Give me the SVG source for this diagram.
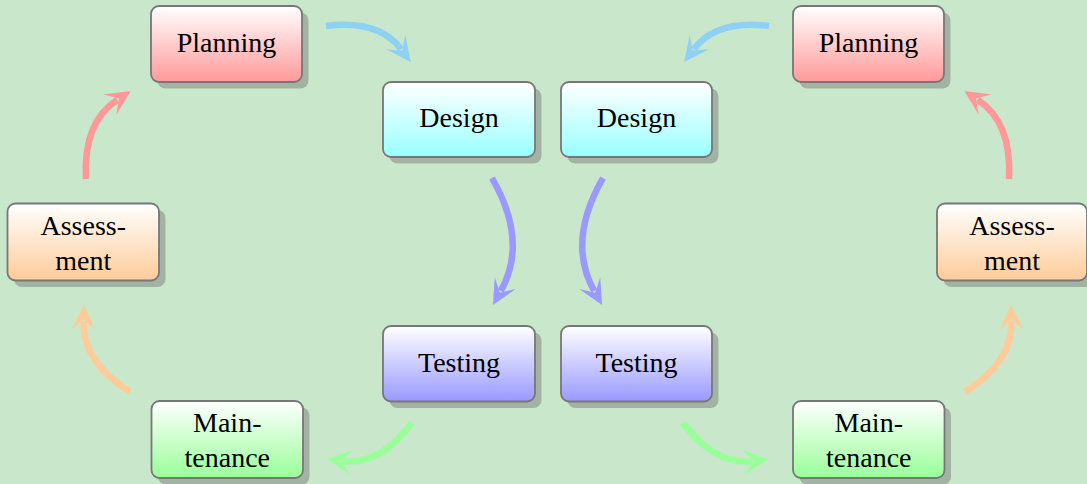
<svg xmlns="http://www.w3.org/2000/svg" width="1087" height="484" viewBox="0 0 1087 484">
<defs>
<linearGradient id="gRed" x1="0" y1="0" x2="0" y2="1"><stop offset="0" stop-color="#ffffff"/><stop offset="1" stop-color="#ff9999"/></linearGradient>
<linearGradient id="gCyan" x1="0" y1="0" x2="0" y2="1"><stop offset="0" stop-color="#ffffff"/><stop offset="1" stop-color="#99ffff"/></linearGradient>
<linearGradient id="gBlue" x1="0" y1="0" x2="0" y2="1"><stop offset="0" stop-color="#ffffff"/><stop offset="1" stop-color="#9999ff"/></linearGradient>
<linearGradient id="gOrange" x1="0" y1="0" x2="0" y2="1"><stop offset="0" stop-color="#ffffff"/><stop offset="1" stop-color="#ffcc99"/></linearGradient>
<linearGradient id="gGreen" x1="0" y1="0" x2="0" y2="1"><stop offset="0" stop-color="#ffffff"/><stop offset="1" stop-color="#99ff99"/></linearGradient>
<marker id="mSky" markerUnits="userSpaceOnUse" viewBox="-10 -13 28 26" markerWidth="28" markerHeight="26" refX="0" refY="0" orient="auto" overflow="visible"><path d="M16,0 L-9,-12 L2,0 L-9,12 Z" fill="#8fd0f5"/></marker>
<marker id="mBlue" markerUnits="userSpaceOnUse" viewBox="-10 -13 28 26" markerWidth="28" markerHeight="26" refX="0" refY="0" orient="auto" overflow="visible"><path d="M16,0 L-9,-12 L2,0 L-9,12 Z" fill="#9999ff"/></marker>
<marker id="mGreen" markerUnits="userSpaceOnUse" viewBox="-10 -13 28 26" markerWidth="28" markerHeight="26" refX="0" refY="0" orient="auto" overflow="visible"><path d="M16,0 L-9,-12 L2,0 L-9,12 Z" fill="#99ff99"/></marker>
<marker id="mOrange" markerUnits="userSpaceOnUse" viewBox="-10 -13 28 26" markerWidth="28" markerHeight="26" refX="0" refY="0" orient="auto" overflow="visible"><path d="M16,0 L-9,-12 L2,0 L-9,12 Z" fill="#ffcc99"/></marker>
<marker id="mRed" markerUnits="userSpaceOnUse" viewBox="-10 -13 28 26" markerWidth="28" markerHeight="26" refX="0" refY="0" orient="auto" overflow="visible"><path d="M16,0 L-9,-12 L2,0 L-9,12 Z" fill="#ff9999"/></marker>
</defs>
<style>
.shadow{fill:#a3b3a3;}
.box{stroke:#777777;stroke-width:1.8;}
.lbl{font-family:"Liberation Serif","Times New Roman",serif;font-size:28px;fill:#000;text-anchor:middle;}
.arr{fill:none;stroke-width:6.5;}
</style>
<rect x="0" y="0" width="1087" height="484" fill="#c9e7ca"/>

<g id="connectors">
<path class="arr" d="M326,26 Q378.7,19.5 401.1,49.2" stroke="#8fd0f5" marker-end="url(#mSky)"/>
<path class="arr" d="M769,26 Q716.3,19.5 693.9,49.2" stroke="#8fd0f5" marker-end="url(#mSky)"/>
<path class="arr" d="M492,178 Q528.5,241.5 500.8,291" stroke="#9999ff" marker-end="url(#mBlue)"/>
<path class="arr" d="M603,178 Q566.5,241.5 594.2,291" stroke="#9999ff" marker-end="url(#mBlue)"/>
<path class="arr" d="M412,422.7 Q379.9,465.6 342.6,461.2" stroke="#99ff99" marker-end="url(#mGreen)"/>
<path class="arr" d="M683,422.7 Q715.1,465.6 752.4,461.2" stroke="#99ff99" marker-end="url(#mGreen)"/>
<path class="arr" d="M130,392 Q82.1,361.5 83.6,321" stroke="#ffcc99" marker-end="url(#mOrange)"/>
<path class="arr" d="M965,392 Q1012.9,361.5 1011.4,321" stroke="#ffcc99" marker-end="url(#mOrange)"/>
<path class="arr" d="M86,179 Q82.9,122.1 117.3,99.7" stroke="#ff9999" marker-end="url(#mRed)"/>
<path class="arr" d="M1009,179 Q1012.1,122.1 977.7,99.7" stroke="#ff9999" marker-end="url(#mRed)"/>
</g>

<g id="planning-left">
<rect class="shadow" x="157.5" y="12.5" width="151" height="76" rx="8"/>
<rect class="box" x="151" y="6" width="151" height="76" rx="8" fill="url(#gRed)"/>
<text class="lbl" x="226.5" y="52">Planning</text>
</g>
<g id="design-left">
<rect class="shadow" x="389.5" y="88.5" width="152" height="75" rx="8"/>
<rect class="box" x="383" y="82" width="152" height="75" rx="8" fill="url(#gCyan)"/>
<text class="lbl" x="459" y="127">Design</text>
</g>
<g id="design-right">
<rect class="shadow" x="567.5" y="88.5" width="151" height="75" rx="8"/>
<rect class="box" x="561" y="82" width="151" height="75" rx="8" fill="url(#gCyan)"/>
<text class="lbl" x="636.5" y="127">Design</text>
</g>
<g id="planning-right">
<rect class="shadow" x="799.5" y="12.5" width="151" height="76" rx="8"/>
<rect class="box" x="793" y="6" width="151" height="76" rx="8" fill="url(#gRed)"/>
<text class="lbl" x="868.5" y="52">Planning</text>
</g>
<g id="assessment-left">
<rect class="shadow" x="14" y="210" width="151.5" height="77" rx="8"/>
<rect class="box" x="7.5" y="203.5" width="151.5" height="77" rx="8" fill="url(#gOrange)"/>
<text class="lbl" x="83.25" y="234.5">Assess-</text>
<text class="lbl" x="83.25" y="270">ment</text>
</g>
<g id="assessment-right">
<rect class="shadow" x="943.5" y="210" width="150" height="77" rx="8"/>
<rect class="box" x="937" y="203.5" width="150" height="77" rx="8" fill="url(#gOrange)"/>
<text class="lbl" x="1012" y="234.5">Assess-</text>
<text class="lbl" x="1012" y="270">ment</text>
</g>
<g id="testing-left">
<rect class="shadow" x="389.5" y="332.5" width="152" height="75.5" rx="8"/>
<rect class="box" x="383" y="326" width="152" height="75.5" rx="8" fill="url(#gBlue)"/>
<text class="lbl" x="459" y="372">Testing</text>
</g>
<g id="testing-right">
<rect class="shadow" x="567.5" y="332.5" width="151" height="75.5" rx="8"/>
<rect class="box" x="561" y="326" width="151" height="75.5" rx="8" fill="url(#gBlue)"/>
<text class="lbl" x="636.5" y="372">Testing</text>
</g>
<g id="maintenance-left">
<rect class="shadow" x="158" y="407.5" width="151.5" height="77" rx="8"/>
<rect class="box" x="151.5" y="401" width="151.5" height="77" rx="8" fill="url(#gGreen)"/>
<text class="lbl" x="227.25" y="432">Main-</text>
<text class="lbl" x="227.25" y="467">tenance</text>
</g>
<g id="maintenance-right">
<rect class="shadow" x="799.5" y="407.5" width="151.5" height="77" rx="8"/>
<rect class="box" x="793" y="401" width="151.5" height="77" rx="8" fill="url(#gGreen)"/>
<text class="lbl" x="868.75" y="432">Main-</text>
<text class="lbl" x="868.75" y="467">tenance</text>
</g>
</svg>
